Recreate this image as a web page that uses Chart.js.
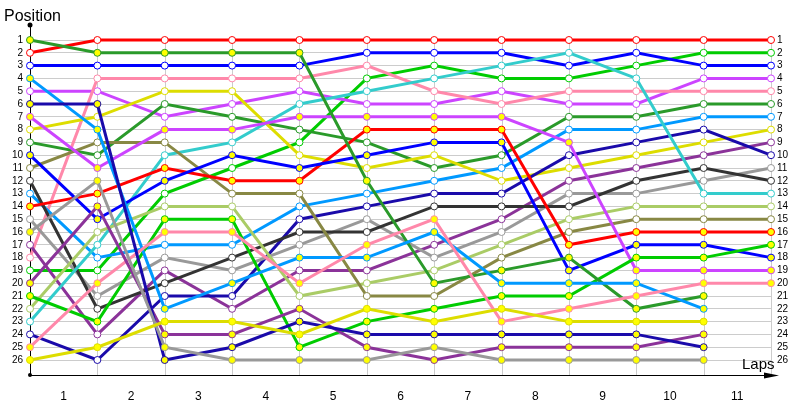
<!DOCTYPE html>
<html>
<head>
<meta charset="utf-8">
<script src="https://cdn.jsdelivr.net/npm/chart.js@4.4.1/dist/chart.umd.min.js"></script>
<style>
  html, body { margin: 0; padding: 0; background: #fff; }
  #wrap { width: 800px; height: 400px; position: relative; }
</style>
</head>
<body>
<div id="wrap"><canvas id="lap-chart"></canvas></div>
<script>
// laps 0..11, lap labels sit between the lap columns
var laps = [0, 1, 2, 3, 4, 5, 6, 7, 8, 9, 10, 11];
var lapLabels = ['1', '2', '3', '4', '5', '6', '7', '8', '9', '10', '11'];
var positionTicks = [1, 2, 3, 4, 5, 6, 7, 8, 9, 10, 11, 12, 13, 14, 15, 16, 17, 18, 19, 20, 21, 22, 23, 24, 25, 26];

// position of each car at each lap (A = white marker, B = yellow marker)
var redA = [2, 1, 1, 1, 1, 1, 1, 1, 1, 1, 1, 1];
var redB = [14, 13, 11, 12, 12, 8, 8, 8, 17, 16, 16, 16];
var greenA = [19, 19, 13, 11, 9, 4, 3, 4, 4, 3, 2, 2];
var greenB = [21, 23, 15, 15, 25, 23, 22, 21, 21, 18, 18, 17];
var blueA = [3, 3, 3, 3, 3, 2, 2, 2, 3, 2, 3, 3];
var blueB = [10, 15, 12, 10, 11, 10, 9, 9, 19, 17, 17, 18];
var magentaA = [5, 5, 7, 6, 5, 6, 6, 5, 6, 6, 4, 4];
var magentaB = [7, 11, 8, 8, 7, 7, 7, 7, 9, 19, 19, 19];
var pinkA = [18, 4, 4, 4, 4, 3, 5, 6, 5, 5, 5, 5];
var pinkB = [25, 20, 16, 16, 20, 17, 15, 23, 22, 21, 20, 20];
var darkGreenA = [9, 10, 6, 7, 8, 9, 11, 10, 7, 7, 6, 6];
var darkGreenB = [1, 2, 2, 2, 2, 12, 20, 19, 18, 22, 21, null];
var lightBlueA = [13, 18, 17, 17, 14, 13, 12, 11, 8, 8, 7, 7];
var lightBlueB = [4, 8, 22, 20, 18, 18, 16, 20, 20, 20, 22, null];
var yellowA = [8, 7, 5, 5, 10, 11, 10, 12, 11, 10, 9, 8];
var yellowB = [26, 25, 23, 23, 24, 22, 23, 22, 23, 23, 23, null];
var purpleA = [17, 24, 19, 22, 19, 19, 17, 15, 12, 11, 10, 9];
var purpleB = [20, 14, 24, 24, 22, 25, 26, 25, 25, 25, 24, null];
var darkBlueA = [24, 26, 21, 21, 15, 14, 13, 13, 10, 9, 8, 10];
var darkBlueB = [6, 6, 26, 25, 23, 24, 24, 24, 24, 24, 25, null];
var grayA = [15, 21, 18, 19, 17, 15, 18, 16, 13, 13, 12, 11];
var grayB = [16, 12, 25, 26, 26, 26, 25, 26, 26, 26, 26, null];
var blackA = [12, 22, 20, 18, 16, 16, 14, 14, 14, 12, 11, 12];
var cyanA = [23, 17, 10, 9, 6, 5, 4, 3, 2, 4, 13, 13];
var lightGreenA = [22, 16, 14, 14, 21, 20, 19, 17, 15, 14, 14, 14];
var oliveA = [11, 9, 9, 13, 13, 21, 21, 18, 16, 15, 15, 15];

var cars = [
  [yellowB, '#dddd00', true],
  [grayB, '#999999', true],
  [darkBlueB, '#1a0aaa', true],
  [purpleB, '#8b3399', true],
  [pinkB, '#ff88aa', true],
  [lightBlueB, '#0099ff', true],
  [darkGreenB, '#2a9a2a', true],
  [greenB, '#00cc00', true],
  [magentaB, '#cc44ff', true],
  [blueB, '#0000ff', true],
  [redB, '#ff0000', true],
  [oliveA, '#888844', false],
  [lightGreenA, '#aacc66', false],
  [cyanA, '#33cccc', false],
  [blackA, '#333333', false],
  [grayA, '#999999', false],
  [darkBlueA, '#1a0aaa', false],
  [purpleA, '#8b3399', false],
  [yellowA, '#dddd00', false],
  [lightBlueA, '#0099ff', false],
  [darkGreenA, '#2a9a2a', false],
  [pinkA, '#ff88aa', false],
  [magentaA, '#cc44ff', false],
  [blueA, '#0000ff', false],
  [greenA, '#00cc00', false],
  [redA, '#ff0000', false]
];

var datasets = cars.map(function (c) {
  return {
    data: laps.map(function (lap, i) { return { x: lap, y: c[0][i] }; }).filter(function (p) { return p.y !== null; }),
    borderColor: c[1],
    borderWidth: 3,
    pointRadius: 3.5,
    pointHoverRadius: 3.5,
    pointBorderWidth: 1,
    pointBorderColor: c[1],
    pointBackgroundColor: c[2] ? '#ffff00' : '#ffffff',
    tension: 0,
    clip: false
  };
});

var yMin = -0.171875, yMax = 27.171875;
var tickFont = { family: 'Liberation Sans', size: 10 };

var decorations = {
  id: 'decorations',
  beforeDatasetsDraw: function (chart) {
    var ctx = chart.ctx, x = chart.scales.x, y = chart.scales.y;
    ctx.save();
    ctx.strokeStyle = '#cccccc';
    ctx.lineWidth = 1;
    laps.forEach(function (lap) {
      if (lap === 0) return;
      var px = Math.round(x.getPixelForValue(lap)) + 0.5;
      ctx.beginPath();
      ctx.moveTo(px, y.getPixelForValue(1));
      ctx.lineTo(px, chart.chartArea.bottom);
      ctx.stroke();
    });
    ctx.restore();
  },
  afterDraw: function (chart) {
    var ctx = chart.ctx, a = chart.chartArea;
    ctx.save();
    ctx.fillStyle = '#000';
    ctx.strokeStyle = '#000';
    ctx.lineWidth = 1;
    ctx.beginPath();
    ctx.moveTo(a.right, a.bottom + 0.5);
    ctx.lineTo(774, a.bottom + 0.5);
    ctx.stroke();
    ctx.beginPath();
    ctx.moveTo(764, a.bottom - 2.5);
    ctx.lineTo(779, a.bottom + 0.5);
    ctx.lineTo(764, a.bottom + 3.5);
    ctx.closePath();
    ctx.fill();
    ctx.beginPath();
    ctx.arc(a.left, a.top, 2.5, 0, Math.PI * 2);
    ctx.fill();
    ctx.beginPath();
    ctx.arc(a.left, a.bottom, 2, 0, Math.PI * 2);
    ctx.fill();
    ctx.font = '16px "Liberation Sans"';
    ctx.textBaseline = 'alphabetic';
    ctx.fillText('Position', 4, 21);
    ctx.font = '15px "Liberation Sans"';
    ctx.fillText('Laps', 742, 369);
    ctx.restore();
  }
};

new Chart(document.getElementById('lap-chart').getContext('2d'), {
  type: 'line',
  data: { datasets: datasets },
  options: {
    responsive: true,
    maintainAspectRatio: false,
    animation: false,
    layout: { padding: { top: 25, left: 0, right: 0, bottom: 0 } },
    plugins: { legend: { display: false }, tooltip: { enabled: false } },
    scales: {
      x: {
        type: 'linear',
        min: 0,
        max: 11,
        afterBuildTicks: function (axis) {
          axis.ticks = lapLabels.map(function (l, i) { return { value: i + 0.5 }; });
        },
        afterFit: function (axis) { axis.height = 25; },
        grid: { display: false },
        border: { display: true, color: '#000', width: 1 },
        ticks: {
          autoSkip: false,
          maxRotation: 0,
          padding: 6,
          color: '#000',
          font: { family: 'Liberation Sans', size: 12 },
          callback: function (v, i) { return lapLabels[i]; }
        }
      },
      y: {
        type: 'linear',
        position: 'left',
        reverse: true,
        min: yMin,
        max: yMax,
        afterBuildTicks: function (axis) {
          axis.ticks = positionTicks.map(function (p) { return { value: p }; });
        },
        afterFit: function (axis) { axis.width = 30; },
        grid: { color: '#cccccc', drawTicks: false },
        border: { display: true, color: '#000', width: 1 },
        ticks: { autoSkip: false, padding: 7, color: '#000', font: tickFont, callback: function (v) { return String(v); } }
      },
      y2: {
        type: 'linear',
        position: 'right',
        reverse: true,
        min: yMin,
        max: yMax,
        afterBuildTicks: function (axis) {
          axis.ticks = positionTicks.map(function (p) { return { value: p }; });
        },
        afterFit: function (axis) { axis.width = 29; },
        grid: { display: false, drawTicks: false },
        border: { display: false },
        ticks: { autoSkip: false, padding: 6, color: '#000', font: tickFont, callback: function (v) { return String(v); } }
      }
    }
  },
  plugins: [decorations]
});
</script>
</body>
</html>
